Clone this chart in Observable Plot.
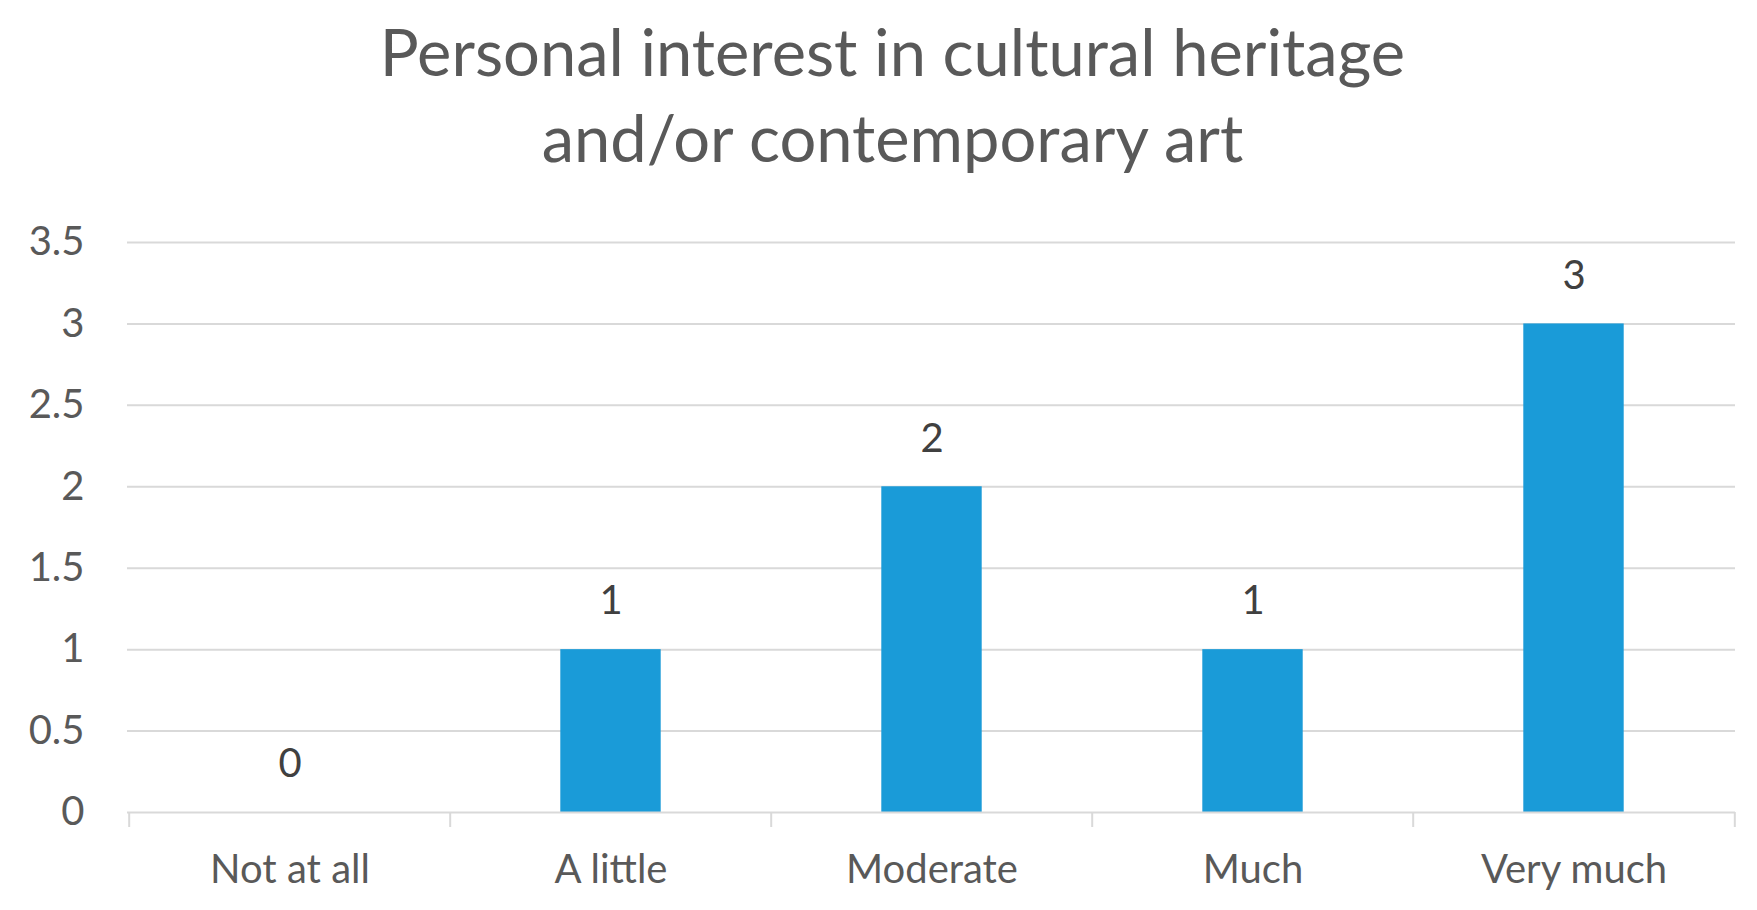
<!DOCTYPE html>
<html>
<head>
<meta charset="utf-8">
<script src="https://cdn.jsdelivr.net/npm/d3@7"></script>
<script src="https://cdn.jsdelivr.net/npm/@observablehq/plot@0.6"></script>
<style>
  html, body { margin: 0; padding: 0; background: #fff; }
  #title {
    width: 1757px; height: 190px; box-sizing: border-box; padding-top: 8px; padding-left: 28px;
    text-align: center; font-family: Lato, "Open Sans", sans-serif;
    font-size: 65px; line-height: 86px; color: #595959;
  }
</style>
</head>
<body>
<div id="title">Personal interest in cultural heritage<br>and/or contemporary art</div>
<div id="chart"></div>
<script>
const categories = ["Not at all", "A little", "Moderate", "Much", "Very much"];
const values = [0, 1, 2, 1, 3];
const yTicks = [0, 0.5, 1, 1.5, 2, 2.5, 3, 3.5];

const data = categories.map((c, i) => ({category: c, value: values[i]}));

const W = 1757, H = 720;
const mL = 127, mR = 22, mT = 52, mB = 98;
const step = (W - mL - mR) / categories.length;
const barW = 101;
const inset = (step - barW) / 2;
const font = "Lato, 'Open Sans', sans-serif";

const chart = Plot.plot({
  width: W,
  height: H,
  marginLeft: mL,
  marginRight: mR,
  marginTop: mT,
  marginBottom: mB,
  style: {fontFamily: font, fontSize: "40px", color: "#595959", background: "#fff"},
  x: {domain: categories, padding: 0, label: null},
  y: {domain: [0, 3.5], label: null},
  marks: [
    Plot.gridY(yTicks.filter(d => d > 0), {stroke: "#d9d9d9", strokeOpacity: 1, strokeWidth: 2}),
    Plot.barY(data, {x: "category", y: "value", fill: "#1a9bd8", insetLeft: inset, insetRight: inset}),
    Plot.ruleY([0], {stroke: "#d9d9d9", strokeWidth: 2}),
    Plot.ruleX(categories, {x: d => d, dx: -step / 2, y1: 0, y2: 0, insetBottom: -15, stroke: "#d9d9d9", strokeWidth: 2}),
    Plot.ruleX([categories[categories.length - 1]], {x: d => d, dx: step / 2, y1: 0, y2: 0, insetBottom: -15, stroke: "#d9d9d9", strokeWidth: 2}),
    Plot.axisY({ticks: yTicks, tickSize: 0, tickPadding: 43, fontSize: 40, fill: "#595959", tickFormat: d => String(d)}),
    Plot.axisX({tickSize: 0, tickPadding: 42, fontSize: 40, fill: "#595959"}),
    Plot.text(data, {x: "category", y: "value", text: d => String(d.value), dy: -48, fontSize: 40, fill: "#404040"})
  ]
});
document.getElementById("chart").appendChild(chart);
</script>
</body>
</html>
